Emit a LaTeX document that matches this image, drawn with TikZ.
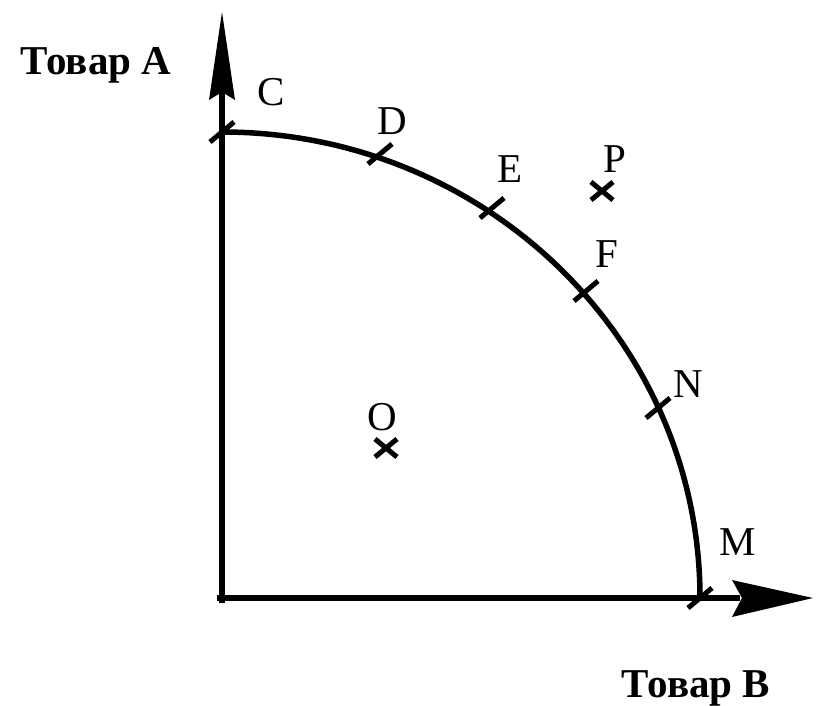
\documentclass[tikz,border=0pt]{standalone}
\usepackage{fontspec}
\setmainfont{Liberation Serif}
\begin{document}
\begin{tikzpicture}[x=1pt,y=-1pt,
  axis/.style={line width=6pt},
  curve/.style={line width=5.5pt},
  tickmark/.style={line width=5pt},
  crossmark/.style={line width=5pt},
  lbl/.style={anchor=base,inner sep=0pt,font=\fontsize{41}{48}\selectfont},
  axlbl/.style={anchor=base,inner sep=0pt,font=\fontsize{41}{48}\selectfont\bfseries}]
\useasboundingbox (0,0) rectangle (819,706);
% origin and axis ends
\coordinate (O0) at (222,598);
\coordinate (Ytop) at (222,92);
\coordinate (Xend) at (740,598);
\coordinate (Cpt) at (222,132);
\coordinate (Mpt) at (700,598);
% axes
\draw[axis] (222,603) -- (Ytop);
\draw[axis] (217,598) -- (Xend);
\fill (222,12) -- (235,100) -- (222,92) -- (209,100) -- cycle;
\fill (813,598) -- (732,617) -- (742,598) -- (732,580) -- cycle;
% production possibility curve
\draw[curve] (Mpt) arc[start angle=0,end angle=-90,x radius=478,y radius=466];
% tick points
\coordinate (Dpt) at (380,154);
\coordinate (Ept) at (492,208);
\coordinate (Fpt) at (586,291);
\coordinate (Npt) at (658,408);
\foreach \p in {Cpt,Dpt,Ept,Fpt,Npt,Mpt}
  \draw[tickmark] ([shift={(-12,10)}]\p) -- ([shift={(12,-10)}]\p);
% crosses
\coordinate (Ppt) at (602,191);
\coordinate (Opt) at (386,448);
\foreach \p in {Ppt,Opt}{
  \draw[crossmark] ([shift={(-11,-9)}]\p) -- ([shift={(11,9)}]\p);
  \draw[crossmark] ([shift={(-11,9)}]\p) -- ([shift={(11,-9)}]\p);
}
% labels
\node[axlbl] (ta) at (96,75) {Товар A};
\node[axlbl] (tb) at (696,697) {Товар B};
\node[lbl] (lc) at (271,106) {C};
\node[lbl] (ld) at (392,135) {D};
\node[lbl] (le) at (510,182) {E};
\node[lbl] (lp) at (615,172) {P};
\node[lbl] (lf) at (607,267) {F};
\node[lbl] (ln) at (688,397) {N};
\node[lbl] (lo) at (382,430) {O};
\node[lbl] (lm) at (738,555) {M};
\end{tikzpicture}
\end{document}
